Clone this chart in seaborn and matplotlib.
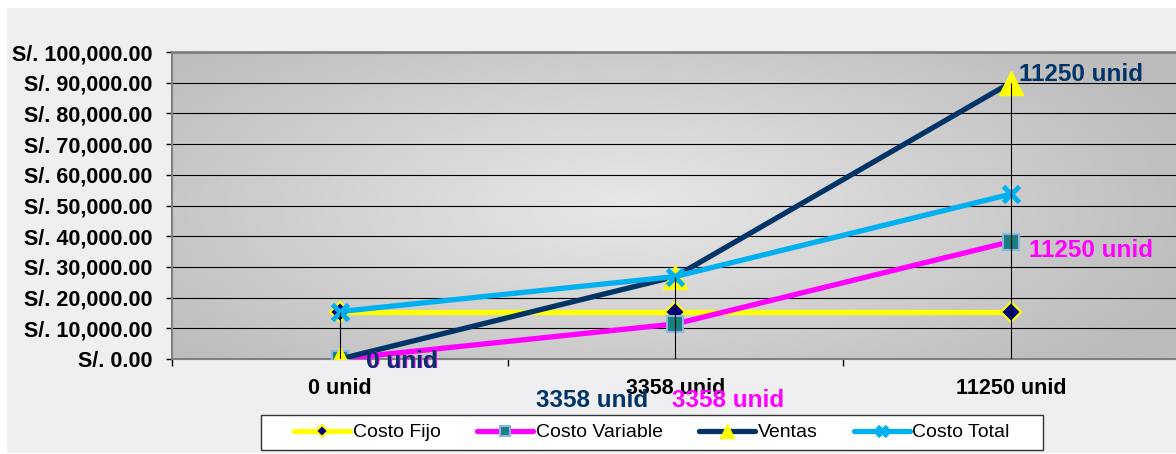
import numpy as np
import pandas as pd
import matplotlib
matplotlib.use("Agg")
import matplotlib.pyplot as plt
import seaborn as sns
from matplotlib.patches import Rectangle

# ---------------- data ----------------
categories = ["0 unid", "3358 unid", "11250 unid"]
costo_fijo = [15450, 15450, 15450]
costo_variable = [0, 11417, 38250]
ventas = [0, 26864, 90000]
costo_total = [15450, 26867, 53700]
series_names = ["Costo Fijo", "Costo Variable", "Ventas", "Costo Total"]
y_ticks = list(range(0, 100001, 10000))
y_tick_labels = [f"S/. {v:,.2f}" for v in y_ticks]

series_values = {
    "Costo Fijo": costo_fijo,
    "Costo Variable": costo_variable,
    "Ventas": ventas,
    "Costo Total": costo_total,
}

pos = np.arange(len(categories))
df = pd.concat(
    [pd.DataFrame({"pos": pos, "value": series_values[n], "serie": n}) for n in series_names],
    ignore_index=True,
)

# ---------------- style ----------------
sns.set_theme(style="white")
plt.rcParams["font.family"] = ["Liberation Sans", "DejaVu Sans"]

W, H = 1176, 454
fig = plt.figure(figsize=(W / 100, H / 100), dpi=100, facecolor="white")
fig.patches.append(Rectangle((7 / W, 1 / H), 1169 / W, 445 / H, transform=fig.transFigure,
                             facecolor="#efeff1", edgecolor="none", zorder=-5))

ax = fig.add_axes([172 / W, 95 / H, 1006.5 / W, 307 / H])
ax.set_zorder(2)

# gradient background of plot area
nx, ny = 400, 200
xx, yy = np.meshgrid(np.linspace(0, 1, nx), np.linspace(0, 1, ny))
r = np.sqrt(((xx - 0.45) / 0.6) ** 2 + ((yy - 0.5) / 0.75) ** 2)
v = (232 - 44 * np.clip(r, 0, 1)) / 255
img = np.dstack([v, v, v])
ax.imshow(img, extent=[0, 1, 0, 1], transform=ax.transAxes, aspect="auto",
          zorder=-1, origin="lower", interpolation="bilinear")

styles = {
    "Costo Fijo": dict(color="#FFFF00", marker="D", markersize=10.5, markerfacecolor="#000080",
                       markeredgecolor="#FFFF00", markeredgewidth=1.5),
    "Costo Variable": dict(color="#FF00FF", marker="s", markersize=11, markerfacecolor="#1A7F80",
                           markeredgecolor="#8DB4E2", markeredgewidth=1.5),
    "Ventas": dict(color="#003366", marker="^", markersize=17, markerfacecolor="#FFFF00",
                   markeredgecolor="#FFFF00", markeredgewidth=1),
    "Costo Total": dict(color="#00B0F0", marker="x", markersize=11, markerfacecolor="#00B0F0",
                        markeredgecolor="#00B0F0", markeredgewidth=3.5),
}

for i, name in enumerate(series_names):
    sub = df[df["serie"] == name]
    sns.lineplot(data=sub, x="pos", y="value", ax=ax, label=name, linewidth=3.8,
                 sort=False, zorder=3 + i, **styles[name])

# drop lines from each point down to the axis
tops = [max(series_values[n][k] for n in series_names) for k in range(len(categories))]
ax.vlines(pos, 0, tops, color="black", linewidth=0.8, zorder=10)

ax.set_xlim(-0.5, len(categories) - 0.5)
ax.set_ylim(0, 100000)

ax.set_yticks(y_ticks)
ax.set_yticklabels(y_tick_labels, fontsize=15.5, fontweight="bold", color="black")
ax.set_xticks(pos)
ax.set_xticklabels(categories, fontsize=15.5, fontweight="bold", color="black")
ax.set_xticks(np.arange(-0.5, len(categories)), minor=True)
ax.tick_params(axis="x", which="major", length=0, pad=13.4)
ax.tick_params(axis="x", which="minor", length=5, width=1, color="black", bottom=True)
ax.tick_params(axis="y", which="major", length=4.5, width=1, color="black", pad=9.4, left=True)
ax.set_xlabel("")
ax.set_ylabel("")

ax.set_axisbelow(True)
ax.yaxis.grid(True, color="black", linewidth=0.8)
ax.xaxis.grid(False)

for s in ["left", "bottom"]:
    ax.spines[s].set_color("#808080")
    ax.spines[s].set_linewidth(1.5)
ax.spines["top"].set_color("#808080")
ax.spines["top"].set_linewidth(2)
ax.spines["right"].set_visible(False)

# data labels
lab_kw = dict(textcoords="offset pixels", fontsize=17.5, fontweight="bold", va="baseline",
              zorder=12, annotation_clip=False)
ax.annotate(categories[0], xy=(0, costo_variable[0]), xytext=(27, -9), ha="left",
            color="#FF00FF", **lab_kw)
ax.annotate(categories[0], xy=(0, ventas[0]), xytext=(26, -9), ha="left",
            color="#003366", **lab_kw)
ax.annotate(categories[1], xy=(1, ventas[1]), xytext=(-83, -130.5), ha="center",
            color="#003366", **lab_kw)
ax.annotate(categories[1], xy=(1, costo_variable[1]), xytext=(53, -83), ha="center",
            color="#FF00FF", **lab_kw)
ax.annotate(categories[2], xy=(2, ventas[2]), xytext=(8, 2), ha="left",
            color="#003366", **lab_kw)
ax.annotate(categories[2], xy=(2, costo_variable[2]), xytext=(18, -15), ha="left",
            color="#FF00FF", **lab_kw)

# legend
handles, labels = ax.get_legend_handles_labels()
if ax.get_legend() is not None:
    ax.get_legend().remove()
fig.patches.append(Rectangle((261 / W, 4 / H), 782 / W, 35 / H, transform=fig.transFigure,
                             facecolor="white", edgecolor="#333333", linewidth=1, zorder=-4))
leg = fig.legend(handles, labels, loc="center", bbox_to_anchor=(652 / W, 21.5 / H), ncol=4,
                 frameon=False, prop={"size": 14}, handlelength=2.88, handletextpad=0.15,
                 columnspacing=1.85, markerscale=0.6)
leg.set_zorder(5)
for t in leg.get_texts():
    t.set_color("black")

fig.savefig("out.png", dpi=100, facecolor="white")
